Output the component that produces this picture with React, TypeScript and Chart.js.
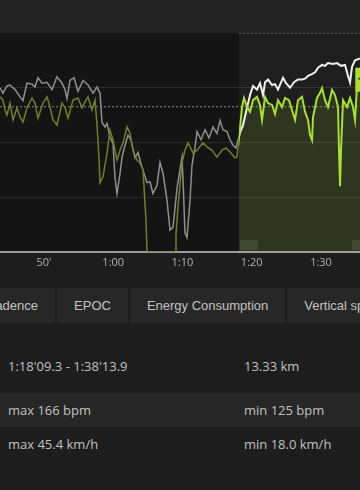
import React, { useEffect, useRef } from 'react';
import { Chart, registerables } from 'chart.js';

// ---- data (minutes since start) ----
const hrTimes = [43.65,44.08,44.66,45.09,45.82,46.54,46.97,47.55,48.27,48.70,49.14,49.71,50.44,51.16,51.88,52.60,53.04,53.32,53.76,54.34,54.91,55.64,56.36,57.08,57.66,58.09,58.38,58.81,59.10,59.53,59.97,60.26,60.54,60.98,61.27,61.70,62.13,62.57,63.14,63.58,64.15,64.88,65.31,65.74,66.32,66.75,67.19,67.76,68.20,68.63,69.21,69.93,70.08,70.36,70.65,71.09,71.37,71.81,72.10,72.67,73.25,73.83,74.41,74.98,75.42,75.85,76.43,76.86,77.30,77.73,78.02,78.31,78.74,79.32,79.75,80.18,80.76,81.19,81.63,81.92,82.35,82.93,83.36,83.79,84.52,84.95,85.53,86.10,86.68,87.26,87.69,88.13,88.70,89.14,89.57,90.15,90.58,91.01,91.74,92.31,92.89,93.47,93.90,94.19,94.48,94.91,95.63];
const hrValues = [150,147,151,151.5,149,145,143,152.5,152,150.5,155.5,152.5,153,149,156,152.5,149,144,154,155.5,148,154,151.5,147,150.5,147,131,128.5,130.5,123,119.5,100.5,92,103,112,118.5,124,121.5,111.5,114.5,106.5,98,98.5,92,96.5,109,103,88.5,72,73.5,95,112,99.5,70.5,68,88.5,107.5,117.5,126,121.5,127,122.5,128.5,125,132,127,126,121.5,118.5,117,121.5,125.5,129.5,139,146,151,149,152.5,146,153,154.5,151.5,152,149,155.5,152.5,150,153,154.5,154.5,155,156.5,157.5,158.5,161,162.5,162,163.5,163,163.5,162,162.5,156.5,153,161.5,165,166];

const speedTimes = [43.65,44.08,44.37,44.66,45.09,45.53,46.10,46.54,46.97,47.55,48.27,48.70,49.14,49.86,50.44,50.87,51.30,51.88,52.60,53.04,53.47,54.19,54.91,55.49,55.92,56.36,56.93,57.37,57.66,57.95,58.09,58.52,59.10,59.53,59.97,60.54,60.98,61.41,61.99,62.42,62.86,63.43,63.87,64.30,64.73,64.88,65.31,68.92,69.06,69.35,69.93,70.36,70.80,71.52,72.10,72.96,73.54,74.26,74.98,75.71,76.28,76.86,77.58,77.87,78.31,78.59,78.88,79.32,79.75,80.18,80.76,81.19,81.48,81.92,82.35,82.93,83.36,83.79,84.37,84.80,85.38,85.81,86.25,86.68,87.26,87.69,88.13,88.41,88.70,88.85,89.42,89.86,90.15,90.58,91.01,91.59,92.02,92.46,92.60,92.75,92.89,93.18,93.76,94.19,94.62,94.91,95.20,95.63];
const speedValues = [42.5,41.6,38.9,37.5,40.8,36.2,39.5,37.0,35.6,39.5,42.2,40.8,36.7,40.8,42.5,39.7,36.2,34.8,40.8,39.5,36.7,41.6,42.2,39.5,41.1,42.5,38.9,41.6,34.8,25.2,18.9,20.6,27.1,33.4,30.7,25.2,27.9,29.9,34.3,32.6,27.9,25.2,24.4,22.5,8.8,0,0,0,4.7,12.3,24.4,27.9,29.9,27.1,27.9,29.9,28.8,27.9,26.0,27.9,28.5,27.4,25.8,26.0,34.0,39.7,42.2,39.7,38.4,41.6,42.5,40.3,36.2,42.5,40.8,40.3,37.8,41.6,39.7,42.2,41.6,38.9,36.2,41.6,42.5,38.4,36.2,32.1,30.7,37.0,42.2,43.6,44.9,41.6,39.7,44.4,43.0,39.7,27.9,18.0,27.9,41.6,39.7,42.2,39.7,36.2,45.4,44.4];

const xTickValues = [50, 60, 70, 80, 90];
const viewStart = 43.65;
const viewEnd = 95.63;
const selectionStart = 78.155; // 1:18'09.3
const avgSpeed = 39.8;
const speedMin = 0;
const speedMax = 60;
const speedStep = 15;
const hrMin = 60;
const hrMax = 180;
const markerTime = 94.95;

const tabLabels = ['Cadence', 'EPOC', 'Energy Consumption', 'Vertical speed'];
const leftCells = ["1:18'09.3 - 1:38'13.9", 'max 166 bpm', 'max 45.4 km/h'];
const rightCells = ['13.33 km', 'min 125 bpm', 'min 18.0 km/h'];

const fmtTick = (v: number) => {
  if (v < 60) return `${v}'`;
  const h = Math.floor(v / 60);
  const m = Math.round(v % 60);
  return `${h}:${String(m).padStart(2, '0')}`;
};

const pts = (xs: number[], ys: number[]) => xs.map((x, i) => ({ x, y: ys[i] }));

// clips datasets to the left (dim) or right (selected) part; registered before
// the Filler so that the area fill is clipped as well
const regionClip = {
  id: 'regionClip',
  beforeDatasetDraw(chart: any, args: any) {
    const ds = chart.data.datasets[args.index];
    if (!ds || !ds.region) return;
    const { ctx, chartArea } = chart;
    const xs = chart.scales.x.getPixelForValue(selectionStart);
    ctx.save();
    ctx.beginPath();
    if (ds.region === 'left') {
      ctx.rect(chartArea.left - 5, chartArea.top - 5, xs - chartArea.left + 5, chartArea.height + 10);
    } else {
      ctx.rect(xs, chartArea.top - 5, chartArea.right - xs + 5, chartArea.height + 10);
    }
    ctx.clip();
  },
  afterDatasetDraw(chart: any, args: any) {
    const ds = chart.data.datasets[args.index];
    if (!ds || !ds.region) return;
    chart.ctx.restore();
  },
};

Chart.register(regionClip as any);
Chart.register(...registerables);

const backdrop = {
  id: 'backdrop',
  beforeDraw(chart: any) {
    const { ctx, chartArea } = chart;
    const xs = chart.scales.x.getPixelForValue(selectionStart);
    ctx.save();
    ctx.fillStyle = '#141414';
    ctx.fillRect(chartArea.left, chartArea.top, chartArea.width, chartArea.height);
    ctx.fillStyle = '#1e1e1e';
    ctx.fillRect(xs, chartArea.top, chartArea.right - xs, chartArea.height);
    ctx.restore();
  },
  afterDatasetsDraw(chart: any) {
    const { ctx, chartArea } = chart;
    const xs = chart.scales.x.getPixelForValue(selectionStart);
    ctx.save();
    ctx.strokeStyle = '#5a5a5a';
    ctx.lineWidth = 1;
    ctx.setLineDash([2, 2]);
    ctx.beginPath();
    ctx.moveTo(xs, chartArea.top + 0.5);
    ctx.lineTo(chartArea.right, chartArea.top + 0.5);
    ctx.stroke();
    ctx.setLineDash([]);
    ctx.fillStyle = 'rgba(255,255,255,0.09)';
    ctx.fillRect(xs + 1, chartArea.bottom - 12, 18, 10);
    ctx.fillRect(chartArea.right - 8, chartArea.bottom - 12, 8, 10);
    const mx = chart.scales.x.getPixelForValue(markerTime);
    const my = chart.scales.y.getPixelForValue(50.5);
    ctx.fillStyle = '#a8e030';
    ctx.fillRect(mx, my, 14, 24);
    ctx.fillStyle = '#3a4a10';
    ctx.fillRect(mx + 3, my + 10, 6, 2);
    ctx.restore();
  },
};

function SpeedChart() {
  const ref = useRef<HTMLCanvasElement | null>(null);
  useEffect(() => {
    if (!ref.current) return;
    const chart = new Chart(ref.current, {
      type: 'line',
      data: {
        datasets: [
          {
            label: 'speed',
            region: 'right',
            data: pts(speedTimes, speedValues),
            borderColor: '#a8e030',
            borderWidth: 2,
            yAxisID: 'y',
            order: 1,
          } as any,
          {
            label: 'speed-dim',
            region: 'left',
            data: pts(speedTimes, speedValues),
            borderColor: '#6e8128',
            borderWidth: 1.5,
            yAxisID: 'y',
            order: 2,
          } as any,
          {
            label: 'hr',
            region: 'right',
            data: pts(hrTimes, hrValues),
            borderColor: '#f0f0f0',
            borderWidth: 2,
            yAxisID: 'hr',
            order: 3,
          } as any,
          {
            label: 'hr-dim',
            region: 'left',
            data: pts(hrTimes, hrValues),
            borderColor: '#8e8e8e',
            borderWidth: 1.5,
            yAxisID: 'hr',
            order: 4,
          } as any,
          {
            label: 'avg',
            data: [{ x: viewStart, y: avgSpeed }, { x: viewEnd, y: avgSpeed }],
            borderColor: '#8a8a8a',
            borderWidth: 1,
            borderDash: [2, 2],
            yAxisID: 'y',
            order: 5,
          } as any,
          {
            label: 'speed-fill',
            region: 'right',
            data: pts(speedTimes, speedValues),
            borderWidth: 0,
            borderColor: 'rgba(0,0,0,0)',
            backgroundColor: 'rgba(160,215,40,0.13)',
            fill: 'origin',
            yAxisID: 'y',
            order: 6,
          } as any,
        ],
      },
      options: {
        responsive: false,
        animation: false,
        events: [],
        layout: { padding: 0 },
        elements: { point: { radius: 0 }, line: { tension: 0 } },
        plugins: { legend: { display: false }, tooltip: { enabled: false } },
        scales: {
          x: {
            type: 'linear',
            min: viewStart,
            max: viewEnd,
            afterBuildTicks: (s: any) => {
              s.ticks = xTickValues.map((v) => ({ value: v }));
            },
            afterFit: (s: any) => {
              s.height = 28;
            },
            ticks: {
              callback: (v: any) => fmtTick(Number(v)),
              color: '#b2b2b2',
              font: { family: 'Open Sans', size: 11 },
              padding: 4,
              maxRotation: 0,
              autoSkip: false,
            },
            grid: { display: false, drawTicks: false },
            border: { display: true, color: '#9a9a9a', width: 2 },
          },
          y: {
            type: 'linear',
            min: speedMin,
            max: speedMax,
            ticks: { display: false, stepSize: speedStep },
            afterFit: (s: any) => {
              s.width = 0;
            },
            grid: {
              drawTicks: false,
              color: (c: any) =>
                c.tick && c.tick.value > speedMin && c.tick.value < speedMax
                  ? 'rgba(255,255,255,0.1)'
                  : 'rgba(0,0,0,0)',
            },
            border: { display: false },
          },
          hr: {
            type: 'linear',
            min: hrMin,
            max: hrMax,
            display: false,
          },
        },
      } as any,
      plugins: [backdrop],
    });
    return () => chart.destroy();
  }, []);
  return <canvas ref={ref} width={360} height={247} style={{ display: 'block' }} />;
}

export default function App() {
  useEffect(() => {
    document.body.style.margin = '0';
    document.body.style.background = '#1d1d1d';
  }, []);
  const tabStyle: React.CSSProperties = {
    flex: 'none',
    padding: '0 17px',
    background: '#272727',
    color: '#c4c4c4',
    fontFamily: '"Liberation Sans", Arial, sans-serif',
    fontSize: 13,
    lineHeight: '35px',
    height: 35,
    whiteSpace: 'nowrap',
  };
  const rowStyle = (bg: string): React.CSSProperties => ({
    position: 'relative',
    height: 34,
    lineHeight: '34px',
    background: bg,
    color: '#c2c2c2',
    fontFamily: '"Open Sans", sans-serif',
    fontSize: 13,
    whiteSpace: 'nowrap',
  });
  return (
    <div style={{ width: 360, height: 490, background: '#1d1d1d', overflow: 'hidden', position: 'relative' }}>
      <div style={{ height: 33, background: '#232323' }} />
      <SpeedChart />
      <div style={{ display: 'flex', gap: 2, marginTop: 8, marginLeft: -31, height: 35 }}>
        {tabLabels.map((t) => (
          <div key={t} style={tabStyle}>{t}</div>
        ))}
      </div>
      <div style={{ marginTop: 26 }}>
        {leftCells.map((l, i) => (
          <div key={l} style={{ ...rowStyle(i === 1 ? '#262626' : 'transparent'), marginTop: i === 1 ? 10 : 0 }}>
            <span style={{ position: 'absolute', left: 8 }}>{l}</span>
            <span style={{ position: 'absolute', left: 244 }}>{rightCells[i]}</span>
          </div>
        ))}
      </div>
    </div>
  );
}
